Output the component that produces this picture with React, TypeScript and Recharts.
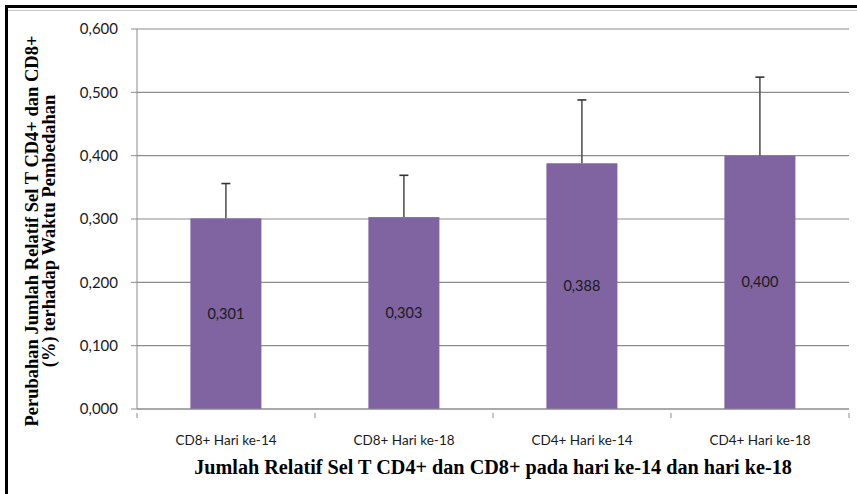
import React from "react";
import { BarChart, Bar, XAxis, YAxis, CartesianGrid, LabelList, Label } from "recharts";

const categories = ["CD8+ Hari ke-14", "CD8+ Hari ke-18", "CD4+ Hari ke-14", "CD4+ Hari ke-18"];
const values = [0.301, 0.303, 0.388, 0.4];
const errors = [0.055, 0.066, 0.1, 0.124];
const yTicks = [0, 0.1, 0.2, 0.3, 0.4, 0.5, 0.6];
const yTitle1 = "Perubahan Jumlah Relatif Sel T CD4+ dan CD8+";
const yTitle2 = "(%) terhadap Waktu Pembedahan";
const xTitle = "Jumlah Relatif Sel T CD4+ dan CD8+ pada hari ke-14 dan hari ke-18";

const data = categories.map((c, i) => ({ name: c, value: values[i], err: errors[i] }));

const fmt = (v: number) => v.toFixed(3).replace(".", ",");

const BarWithError = (props: any) => {
  const { x, y, width, height, payload, fill } = props;
  const pxPerUnit = payload.value ? height / payload.value : 0;
  const topY = y - payload.err * pxPerUnit;
  const cx = x + width / 2;
  return (
    <g>
      <rect x={x} y={y} width={width} height={height} fill={fill} />
      <line x1={cx} x2={cx} y1={y} y2={topY} stroke="#555555" strokeWidth={1.6} />
      <line x1={cx - 4.5} x2={cx + 4.5} y1={topY} y2={topY} stroke="#333333" strokeWidth={1.6} />
    </g>
  );
};

const XTick = (props: any) => {
  const { x, y, payload, index, visibleTicksCount, width } = props;
  const half = width && visibleTicksCount ? width / visibleTicksCount / 2 : 89;
  return (
    <g>
      <line x1={x - half} x2={x - half} y1={y - 4} y2={y + 1} stroke="#8c8c8c" />
      {index === visibleTicksCount - 1 && (
        <line x1={x + half} x2={x + half} y1={y - 4} y2={y + 1} stroke="#8c8c8c" />
      )}
      <text x={x} y={y + 28} textAnchor="middle" fontFamily="Lato, 'Open Sans', sans-serif" fontSize={13.5} fill="#1a1a1a">
        {payload.value}
      </text>
    </g>
  );
};

const YTitle = (props: any) => {
  const vb = props.viewBox || { x: 0, y: 29, width: 137, height: 380 };
  const cx = vb.x + 38;
  const cy = vb.y + vb.height / 2 + 12;
  return (
    <text
      x={cx}
      y={cy}
      transform={`rotate(-90 ${cx} ${cy})`}
      textAnchor="middle"
      fontFamily="'Liberation Serif', 'Times New Roman', serif"
      fontWeight="bold"
      fontSize={18.5}
      fill="#000"
    >
      <tspan x={cx} dy={0}>{yTitle1}</tspan>
      <tspan x={cx} dy={17}>{yTitle2}</tspan>
    </text>
  );
};

export default function App() {
  return (
    <div style={{ position: "absolute", left: 0, top: 0, width: 857, height: 494, background: "#fff", overflow: "hidden" }}>
      <div style={{ position: "absolute", left: 5, top: 5, width: 900, height: 600, borderLeft: "3px solid #000", borderTop: "3px solid #000" }} />
      <div style={{ position: "absolute", left: 8, top: 10, width: 900, height: 0, borderTop: "1px solid #c8c8c8" }} />
      <BarChart
        width={857}
        height={494}
        data={data}
        margin={{ top: 29, right: 8, bottom: 0, left: 0 }}
        barCategoryGap="30%"
        style={{ position: "absolute", left: 0, top: 0 }}
      >
        <CartesianGrid vertical={false} stroke="#8c8c8c" strokeWidth={1.2} />
        <XAxis
          dataKey="name"
          height={85}
          stroke="#8c8c8c"
          tickLine={false}
          tick={<XTick />}
          interval={0}
        >
          <Label
            value={xTitle}
            position="insideBottom"
            offset={20}
            style={{ fontFamily: "'Liberation Serif', 'Times New Roman', serif", fontWeight: "bold", fontSize: 20.2, fill: "#000" }}
          />
        </XAxis>
        <YAxis
          width={137}
          domain={[0, 0.6]}
          ticks={yTicks}
          tickFormatter={fmt}
          stroke="#8c8c8c"
          tickSize={6}
          tickMargin={13}
          tick={{ fontFamily: "Lato, 'Open Sans', sans-serif", fontSize: 15, fill: "#1a1a1a" }}
          label={<YTitle />}
        />
        <Bar dataKey="value" fill="#8064A2" isAnimationActive={false} shape={<BarWithError />}>
          <LabelList
            dataKey="value"
            position="center"
            formatter={(v: any) => fmt(Number(v))}
            style={{ fontFamily: "Lato, 'Open Sans', sans-serif", fontSize: 14.5, fill: "#1a1a1a" }}
          />
        </Bar>
      </BarChart>
    </div>
  );
}
